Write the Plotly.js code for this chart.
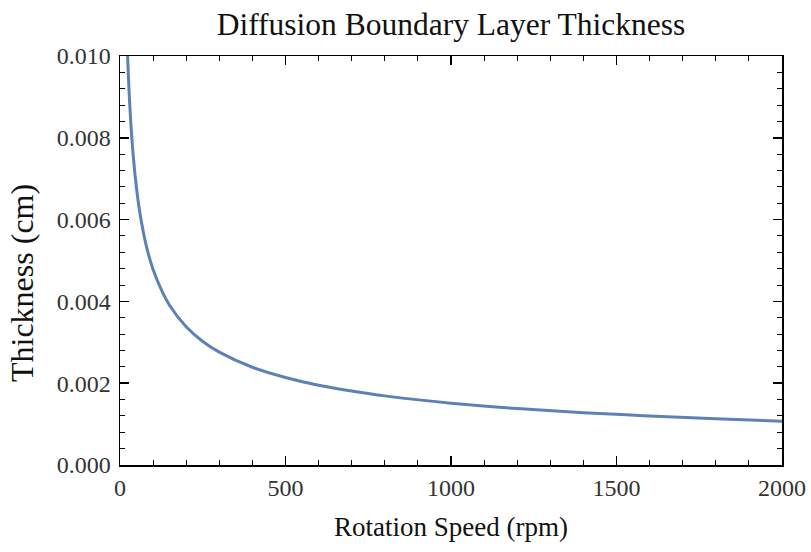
<!DOCTYPE html>
<html>
<head>
<meta charset="utf-8">
<script src="https://cdn.plot.ly/plotly-3.0.1.min.js"></script>
<style>html,body{margin:0;padding:0;background:#fff;}#chart{width:811px;height:552px;}</style>
</head>
<body>
<div id="chart"></div>
<script>
// Values
const rpm = [23, 30, 40, 50, 60, 80, 100, 125, 150, 200, 250, 300, 400, 500, 600, 700, 800, 1000, 1200, 1400, 1600, 1800, 2000];
const thickness = [0.0100, 0.00873, 0.00756, 0.00676, 0.00617, 0.00534, 0.00478, 0.00428, 0.00390, 0.00338, 0.00302, 0.00276, 0.00239, 0.00214, 0.00195, 0.00181, 0.00169, 0.00151, 0.00138, 0.00128, 0.00120, 0.00113, 0.00107];
const xTickVals = [0, 500, 1000, 1500, 2000];
const yTickVals = [0, 0.002, 0.004, 0.006, 0.008, 0.010];
const yTickText = ["0.000", "0.002", "0.004", "0.006", "0.008", "0.010"];

const serif = "Liberation Serif, Times New Roman, serif";
const trace = {
  x: rpm, y: thickness, type: "scatter", mode: "lines",
  line: {color: "#5E81B5", width: 3, shape: "spline", smoothing: 1},
  hoverinfo: "skip"
};
const layout = {
  width: 811, height: 552,
  margin: {l: 120, r: 29, t: 56, b: 87},
  paper_bgcolor: "#fff", plot_bgcolor: "#fff",
  showlegend: false,
  title: {text: "Diffusion Boundary Layer Thickness", font: {family: serif, size: 31.5, color: "#111"},
          xref: "paper", x: 0.5, xanchor: "center", yref: "container", y: 0.957, yanchor: "middle"},
  xaxis: {
    range: [0, 2000], tickvals: xTickVals, ticktext: xTickVals.map(String),
    ticks: "inside", ticklen: 9, tickwidth: 1.5, tickcolor: "#000",
    minor: {dtick: 100, tick0: 0, ticks: "inside", ticklen: 5, tickwidth: 1, tickcolor: "#000", showgrid: false},
    showline: true, linecolor: "#000", linewidth: 1.5, mirror: "ticks",
    showgrid: false, zeroline: false,
    tickfont: {family: serif, size: 24, color: "#333"},
    ticklabelstandoff: 1,
    title: {text: "Rotation Speed (rpm)", font: {family: serif, size: 27, color: "#111"}, standoff: 17}
  },
  yaxis: {
    range: [0, 0.010], tickvals: yTickVals, ticktext: yTickText,
    ticks: "inside", ticklen: 9, tickwidth: 1.5, tickcolor: "#000",
    minor: {dtick: 0.0004, tick0: 0, ticks: "inside", ticklen: 5, tickwidth: 1, tickcolor: "#000", showgrid: false},
    showline: true, linecolor: "#000", linewidth: 1.5, mirror: "ticks",
    showgrid: false, zeroline: false,
    tickfont: {family: serif, size: 24, color: "#333"},
    ticklabelstandoff: 3
  },
  annotations: [{
    text: "Thickness (cm)", textangle: -90, showarrow: false,
    xref: "paper", yref: "paper", x: -0.148, y: 0.445, xanchor: "center", yanchor: "middle",
    font: {family: serif, size: 32, color: "#111"}
  }]
};
Plotly.newPlot("chart", [trace], layout, {displayModeBar: false, staticPlot: true});
</script>
</body>
</html>
